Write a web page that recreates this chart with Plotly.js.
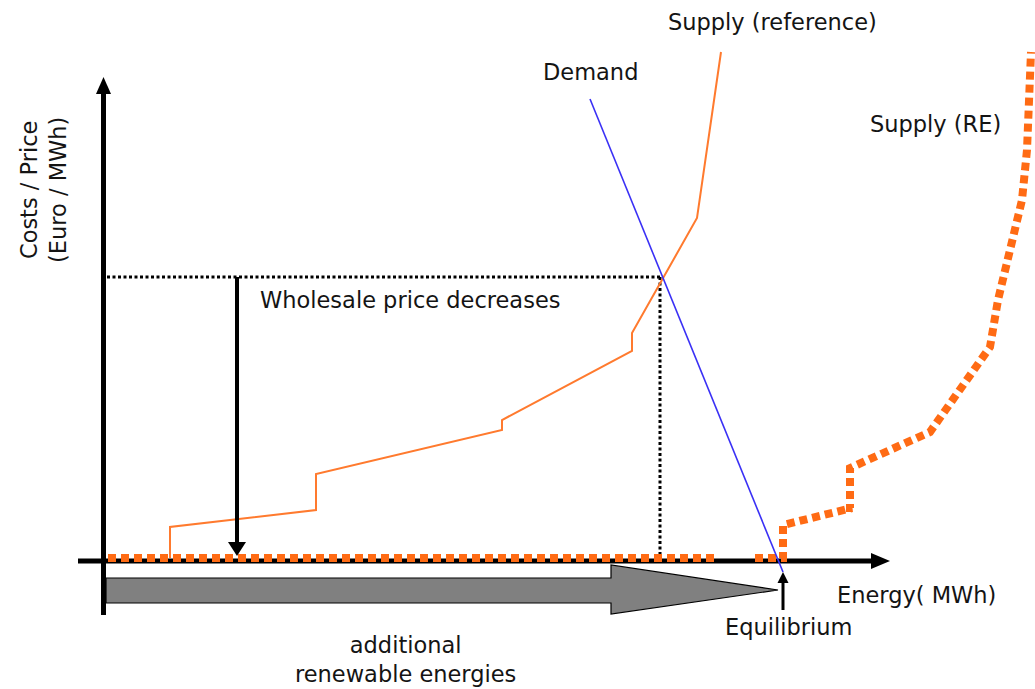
<!DOCTYPE html>
<html>
<head>
<meta charset="utf-8">
<script src="https://cdn.plot.ly/plotly-3.0.1.min.js"></script>
<style>html,body{margin:0;padding:0;background:#fff;}#chart{width:1035px;height:689px;}</style>
</head>
<body>
<div id="chart"></div>
<script>
// Energy (x) and price (y) values (diagram units)
const supplyRefX = [170, 170, 316, 316, 502, 502, 632, 632, 697, 721];
const supplyRefY = [2, 33, 50, 86, 130, 140, 209, 227, 342, 508];

const supplyReX = [108, 717, null, 755, 783, 783, 852, 850, 850, 930, 990, 998, 1010, 1022, 1027, 1030, 1031];
const supplyReY = [2, 2, null, 2, 2, 35, 52, 52, 92, 128, 213, 260, 310, 360, 410, 460, 508];

const demandX = [590, 783];
const demandY = [461, -12];

const eqPrice = 283;      // reference equilibrium price
const eqQuantity = 660;   // reference equilibrium quantity
const reEquilibrium = 783;

const labels = {
  supplyRef: "Supply (reference)",
  demand: "Demand",
  supplyRe: "Supply (RE)",
  decrease: "Wholesale price decreases",
  energy: "Energy( MWh)",
  equilibrium: "Equilibrium",
  additional: "additional<br>renewable energies",
  yTitle: "Costs / Price<br>(Euro / MWh)"
};

const FONT = "DejaVu Sans, Verdana, sans-serif";
const TXT = "#141414";
const FS = 22.5;

const traces = [
  {x: [eqQuantity, eqQuantity], y: [eqPrice, 5], mode: "lines",
   line: {color: "#000", width: 3, dash: "3px,2.5px"}, hoverinfo: "skip"},
  {x: [107, eqQuantity], y: [eqPrice, eqPrice], mode: "lines",
   line: {color: "#000", width: 3, dash: "3px,2.5px"}, hoverinfo: "skip"},
  {x: supplyRefX, y: supplyRefY, mode: "lines",
   line: {color: "#FF7A2E", width: 2}, hoverinfo: "skip"},
  {x: supplyReX, y: supplyReY, mode: "lines", connectgaps: false,
   line: {color: "#FF6B14", width: 8, dash: "8px,5px"}, hoverinfo: "skip"},
  {x: demandX, y: demandY, mode: "lines",
   line: {color: "#3A30F5", width: 1.6}, hoverinfo: "skip"}
];

const shapes = [
  // y axis
  {type: "line", xref: "x", yref: "y", x0: 103.5, x1: 103.5, y0: -55, y1: 468, line: {color: "#000", width: 5}, layer: "below"},
  {type: "path", xref: "x", yref: "y", path: "M96,466 L111,466 L103.5,483 Z", fillcolor: "#000", line: {width: 0}},
  // x axis
  {type: "line", xref: "x", yref: "y", x0: 78, x1: 874, y0: -1, y1: -1, line: {color: "#000", width: 5}, layer: "below"},
  {type: "path", xref: "x", yref: "y", path: "M871,7 L871,-9 L890,-1 Z", fillcolor: "#000", line: {width: 0}},
  // price decrease arrow
  {type: "line", xref: "x", yref: "y", x0: 237, x1: 237, y0: eqPrice, y1: 16, line: {color: "#000", width: 4}},
  {type: "path", xref: "x", yref: "y", path: "M228,18 L246,18 L237,4 Z", fillcolor: "#000", line: {width: 0}},
  // additional renewables arrow (grey)
  {type: "path", xref: "x", yref: "y",
   path: "M106,-18 L611,-18 L611,-5 L778,-30 L611,-54 L611,-43 L106,-43 Z",
   fillcolor: "#808080", line: {color: "#000", width: 1.2}},
  // equilibrium arrow
  {type: "line", xref: "x", yref: "y", x0: reEquilibrium, x1: reEquilibrium, y0: -50, y1: -21, line: {color: "#000", width: 3}},
  {type: "path", xref: "x", yref: "y", path: "M777.5,-23 L788.5,-23 L783,-12 Z", fillcolor: "#000", line: {width: 0}}
];

function ann(text, x, y, extra) {
  return Object.assign({text: text, x: x, y: y, xref: "x", yref: "y", showarrow: false,
    xanchor: "center", yanchor: "middle", font: {family: FONT, size: FS, color: TXT}}, extra || {});
}

const annotations = [
  ann(labels.supplyRef, 772, 538),
  ann(labels.demand, 590, 488),
  ann(labels.supplyRe, 935, 436),
  ann(labels.decrease, 410, 260),
  ann(labels.energy, 916, -35),
  ann(labels.equilibrium, 788, -67),
  ann(labels.additional, 405, -99),
  ann(labels.yTitle, 43, 370, {textangle: -90})
];

const layout = {
  width: 1035, height: 689,
  margin: {l: 0, r: 0, t: 0, b: 0, pad: 0},
  paper_bgcolor: "#fff", plot_bgcolor: "#fff",
  showlegend: false,
  xaxis: {range: [0, 1035], visible: false, fixedrange: true},
  yaxis: {range: [-129, 560], visible: false, fixedrange: true},
  shapes: shapes,
  annotations: annotations
};

Plotly.newPlot("chart", traces, layout, {staticPlot: true, displayModeBar: false});
</script>
</body>
</html>
